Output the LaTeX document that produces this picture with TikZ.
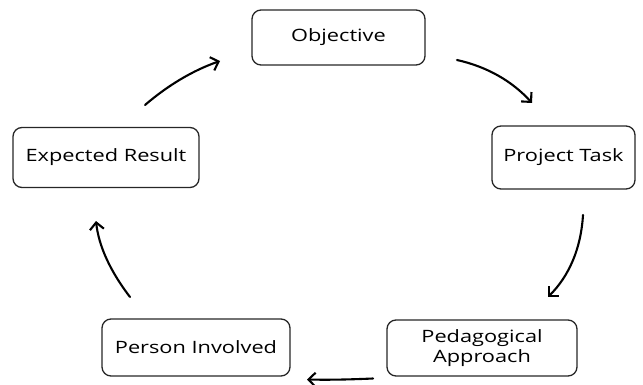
\documentclass[tikz,border=0pt]{standalone}
\usepackage{fontspec}
\setmainfont[FakeStretch=1.28]{Open Sans}
\usetikzlibrary{arrows.meta}
\begin{document}
\begin{tikzpicture}[x=1pt,y=-1pt,
  box/.style={draw=black!85,line width=1.3pt,rounded corners=9pt,inner sep=0pt,
    font=\fontsize{17}{20}\selectfont,text=black,align=center},
  cyc/.style={line width=2.1pt,black,line cap=round,-{Straight Barb[length=7pt,width=14pt,line width=2.1pt]}}]
\useasboundingbox (0,0) rectangle (643,385);
\node[box,minimum width=173pt,minimum height=55pt] (obj) at (338.5,37.5) {Objective};
\node[box,minimum width=186pt,minimum height=60pt] (exp) at (106,157.5) {Expected Result};
\node[box,minimum width=143pt,minimum height=63pt] (task) at (563.5,157.5) {Project Task};
\node[box,minimum width=190pt,minimum height=56pt] (ped) at (482,348) {Pedagogical\\Approach};
\node[box,minimum width=188pt,minimum height=57pt] (per) at (196,347.5) {Person Involved};
\coordinate (a1s) at (145,105); \coordinate (a1e) at (220,61);
\coordinate (a2s) at (457,60);  \coordinate (a2e) at (532,103);
\coordinate (a3s) at (583,215); \coordinate (a3e) at (548,297);
\coordinate (a4s) at (373,378.5); \coordinate (a4e) at (307,379.5);
\coordinate (a5s) at (130,297); \coordinate (a5e) at (96,221);
\draw[cyc] (a1s) .. controls (168.3,85) and (193.3,70.3) .. (a1e);
\draw[cyc] (a2s) .. controls (487,66.7) and (512,81) .. (a2e);
\draw[cyc] (a3s) .. controls (581,248.3) and (569.3,275.7) .. (a3e);
\draw[cyc] (a4s) .. controls (350,379.5) and (330,380) .. (a4e);
\draw[cyc] (a5s) .. controls (110,271) and (98.7,245.7) .. (a5e);
\end{tikzpicture}
\end{document}
